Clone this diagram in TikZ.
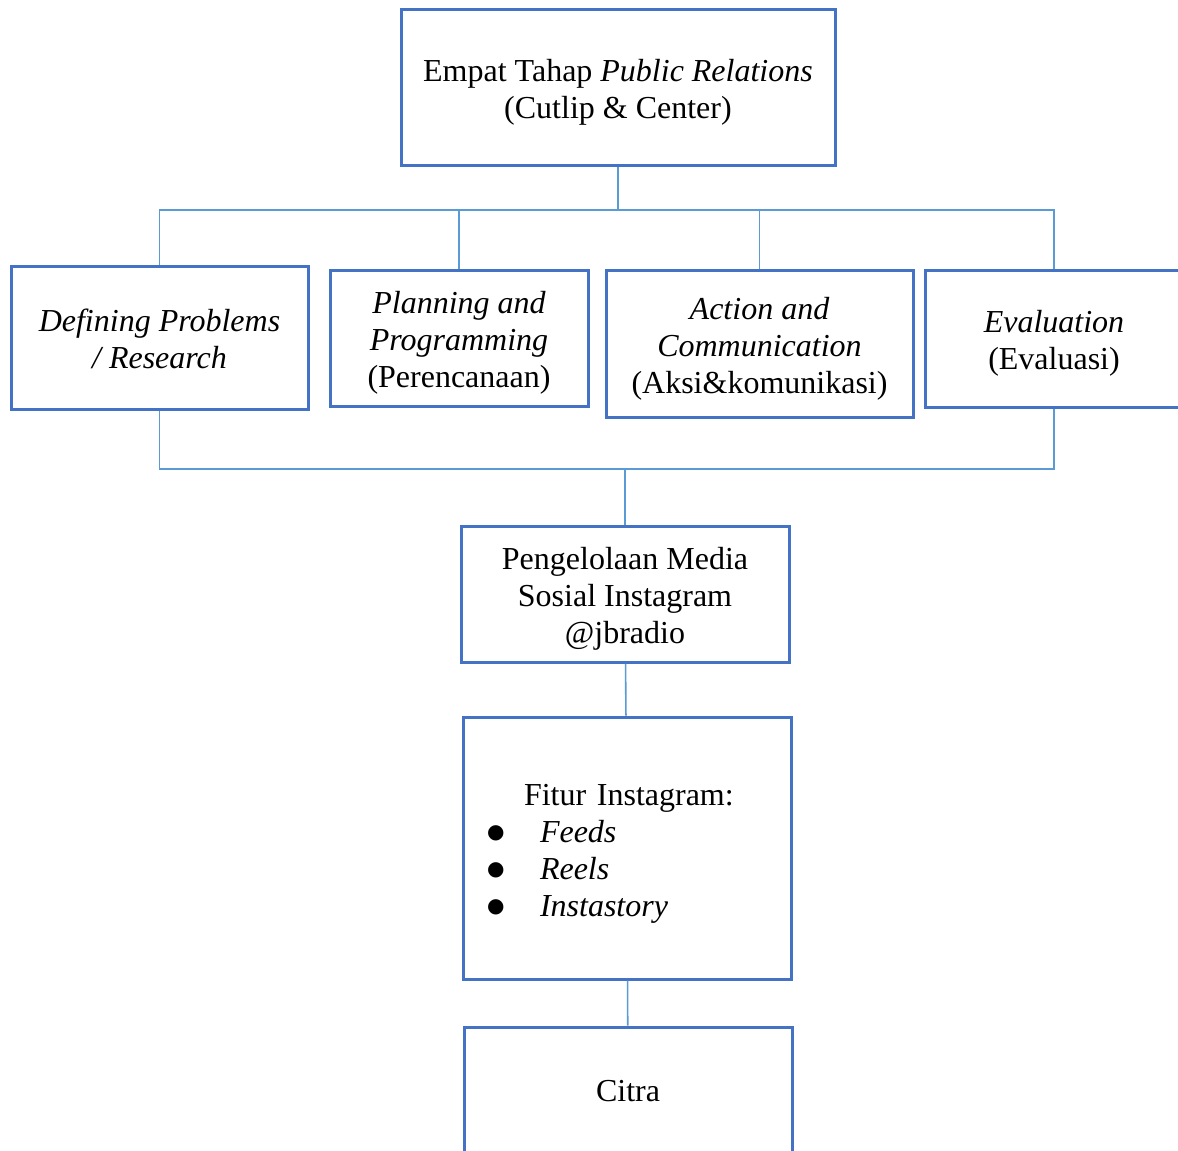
\documentclass[tikz,border=0pt]{standalone}
\usepackage{fontspec}
\setmainfont{Liberation Serif}
\newfontfamily\simbol{DejaVu Sans}
\usepackage{tikz}
\usetikzlibrary{positioning,calc}
\definecolor{biruKotak}{HTML}{4472C4}
\definecolor{biruGaris}{HTML}{5B9BD5}
\newcommand{\poin}{\makebox[26.5pt][l]{\raisebox{1.8pt}{\simbol\fontsize{10}{10}\selectfont ●}}}
\newcommand{\tinggi}[1][16pt]{\rule{0pt}{#1}}
\tikzset{
  kotak/.style={draw=biruKotak,line width=1.5pt,align=center,inner sep=0pt,
    font=\fontsize{16}{18.5}\selectfont,minimum width=164pt},
  tahap/.style={kotak,minimum height=70pt},
  garis/.style={draw=biruGaris,line width=0.8pt},
}

\begin{document}
\begin{tikzpicture}[x=0.5pt,y=-0.5pt]
  \useasboundingbox (0,0) rectangle (1178,1151);
  \clip (0,0) rectangle (1178,1151);
  \fill[white] (0,0) rectangle (1178,1151);
  % judul
  \node[kotak,minimum width=217pt,minimum height=78pt] (empat) at (618,87)
    {\tinggi Empat Tahap \textit{Public Relations}\\(Cutlip \& Center)};
  % empat tahap
  \node[tahap,minimum width=148.5pt,minimum height=71.5pt] (riset) at (159.5,337.5)
    {\tinggi[13pt]\textit{Defining Problems}\\\textit{/ Research}};
  \node[tahap,minimum width=129pt,minimum height=68pt] (rencana) at (459,338)
    {\tinggi\textit{Planning and}\\\textit{Programming}\\(Perencanaan)};
  \node[tahap,minimum width=153.5pt,minimum height=73.5pt] (aksi) at (759.5,343.5)
    {\tinggi\textit{Action and}\\\textit{Communication}\\(Aksi\&komunikasi)};
  \node[tahap,minimum width=129pt,minimum height=68.5pt] (evaluasi) at (1054,338.5)
    {\tinggi\textit{Evaluation}\\(Evaluasi)};
  % media, fitur, citra
  \node[kotak,minimum height=68pt] (media) at (625,594)
    {\tinggi Pengelolaan Media\\Sosial Instagram\\@jbradio};
  \node[kotak,minimum height=131pt,align=left,text width=140pt,inner xsep=12pt] (fitur) at (627,848)
    {\tinggi\hspace*{18.5pt}Fitur Instagram:\\\poin\textit{Feeds}\\\poin\textit{Reels}\\\poin\textit{Instastory}};
  \node[kotak,minimum height=64pt] (citra) at (628,1091) {Citra};
  % garis penghubung
  \coordinate (busAtas) at (618,210);
  \coordinate (busBawah) at (625,469);
  \draw[garis] (empat) -- (busAtas);
  \draw[garis] (riset.north) -- (riset.north |- busAtas) -- (evaluasi.north |- busAtas)
    -- (evaluasi.north);
  \draw[garis] (rencana.north) -- (rencana.north |- busAtas);
  \draw[garis] (aksi.north) -- (aksi.north |- busAtas);
  \draw[garis] (riset.south) -- (riset.south |- busBawah) -- (evaluasi.south |- busBawah)
    -- (evaluasi.south);
  \draw[garis] (busBawah) -- (media.north);
  \draw[garis] (media) -- (fitur);
  \draw[garis] (fitur) -- (citra);
\end{tikzpicture}
\end{document}
